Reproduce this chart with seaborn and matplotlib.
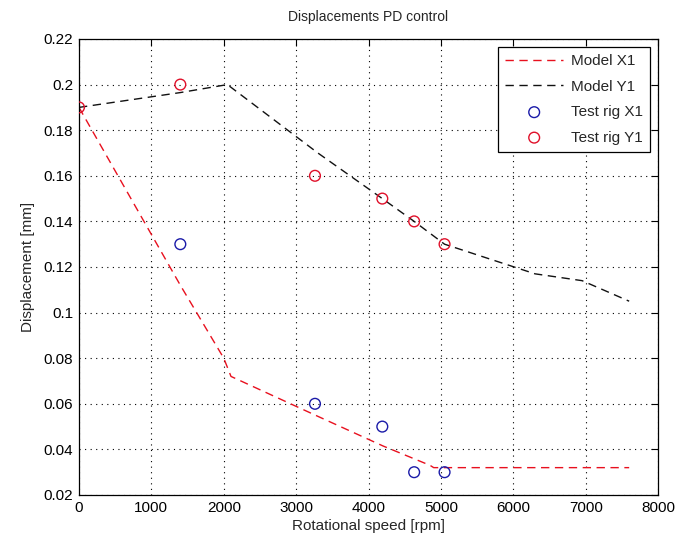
import matplotlib
matplotlib.use("Agg")
import matplotlib.pyplot as plt
import seaborn as sns
import pandas as pd

# Model curves
model_speed_x = [0, 1400, 2000, 2100, 3300, 4200, 4850, 4900, 7600]
model_x1 = [0.19, 0.112, 0.08, 0.072, 0.0545, 0.0415, 0.033, 0.032, 0.032]

model_speed_y = [0, 1400, 2050, 3300, 4190, 4630, 5050, 6300, 6950, 7600]
model_y1 = [0.19, 0.1965, 0.2, 0.17, 0.15, 0.14, 0.13, 0.117, 0.114, 0.105]

# Test rig measurements
test_speed_x = [1400, 3260, 4190, 4630, 5050]
test_x1 = [0.13, 0.06, 0.05, 0.03, 0.03]

test_speed_y = [0, 1400, 3260, 4190, 4630, 5050]
test_y1 = [0.19, 0.20, 0.16, 0.15, 0.14, 0.13]

x_ticks = [0, 1000, 2000, 3000, 4000, 5000, 6000, 7000, 8000]
y_ticks = [0.02, 0.04, 0.06, 0.08, 0.1, 0.12, 0.14, 0.16, 0.18, 0.2, 0.22]
y_tick_labels = ["0.02", "0.04", "0.06", "0.08", "0.1", "0.12", "0.14",
                 "0.16", "0.18", "0.2", "0.22"]

sns.set_style("white")
plt.rcParams["font.family"] = ["Liberation Sans", "DejaVu Sans"]

fig = plt.figure(figsize=(6.75, 5.43), dpi=100)
ax = fig.add_axes([0.117, 0.0884, 0.858, 0.8398])

mx = pd.DataFrame({"speed": model_speed_x, "disp": model_x1})
my = pd.DataFrame({"speed": model_speed_y, "disp": model_y1})
tx = pd.DataFrame({"speed": test_speed_x, "disp": test_x1})
ty = pd.DataFrame({"speed": test_speed_y, "disp": test_y1})

sns.lineplot(data=mx, x="speed", y="disp", ax=ax, color="#e8101e",
             linestyle=(0, (6, 4)), linewidth=1.0, label="Model X1", sort=False)
sns.lineplot(data=my, x="speed", y="disp", ax=ax, color="#111111",
             linestyle=(0, (6, 4)), linewidth=1.0, label="Model Y1", sort=False)
sns.scatterplot(data=tx, x="speed", y="disp", ax=ax, marker="o", s=60,
                facecolor="none", edgecolor="#1a1aa8", linewidth=1.0,
                label="Test rig X1", zorder=5)
sns.scatterplot(data=ty, x="speed", y="disp", ax=ax, marker="o", s=60,
                facecolor="none", edgecolor="#e0102a", linewidth=1.0,
                label="Test rig Y1", zorder=5)

ax.set_xlim(0, 8000)
ax.set_ylim(0.02, 0.22)
ax.set_xticks(x_ticks)
ax.set_xticklabels([str(t) for t in x_ticks])
ax.set_yticks(y_ticks)
ax.set_yticklabels(y_tick_labels)

ax.grid(True, color="black", linestyle=(0, (1, 4)), linewidth=0.8)
ax.set_axisbelow(True)
for side in ["top", "right", "bottom", "left"]:
    ax.spines[side].set_visible(True)
    ax.spines[side].set_color("black")
    ax.spines[side].set_linewidth(0.9)
ax.tick_params(direction="in", length=5, width=0.8, top=True, right=True,
               labelsize=11, pad=4, colors="black")

ax.set_xlabel("Rotational speed [rpm]", fontsize=11, labelpad=3)
ax.set_ylabel("Displacement [mm]", fontsize=11, labelpad=6)
ax.set_title("Displacements PD control", fontsize=10, pad=13)

leg = ax.legend(loc="upper right", fontsize=11, frameon=True, fancybox=False,
                edgecolor="black", framealpha=1, borderaxespad=0.5,
                handlelength=3.8, labelspacing=0.75, borderpad=0.5,
                handletextpad=0.5)
leg.get_frame().set_linewidth(0.9)

fig.savefig("out.png", dpi=100, facecolor="white")
